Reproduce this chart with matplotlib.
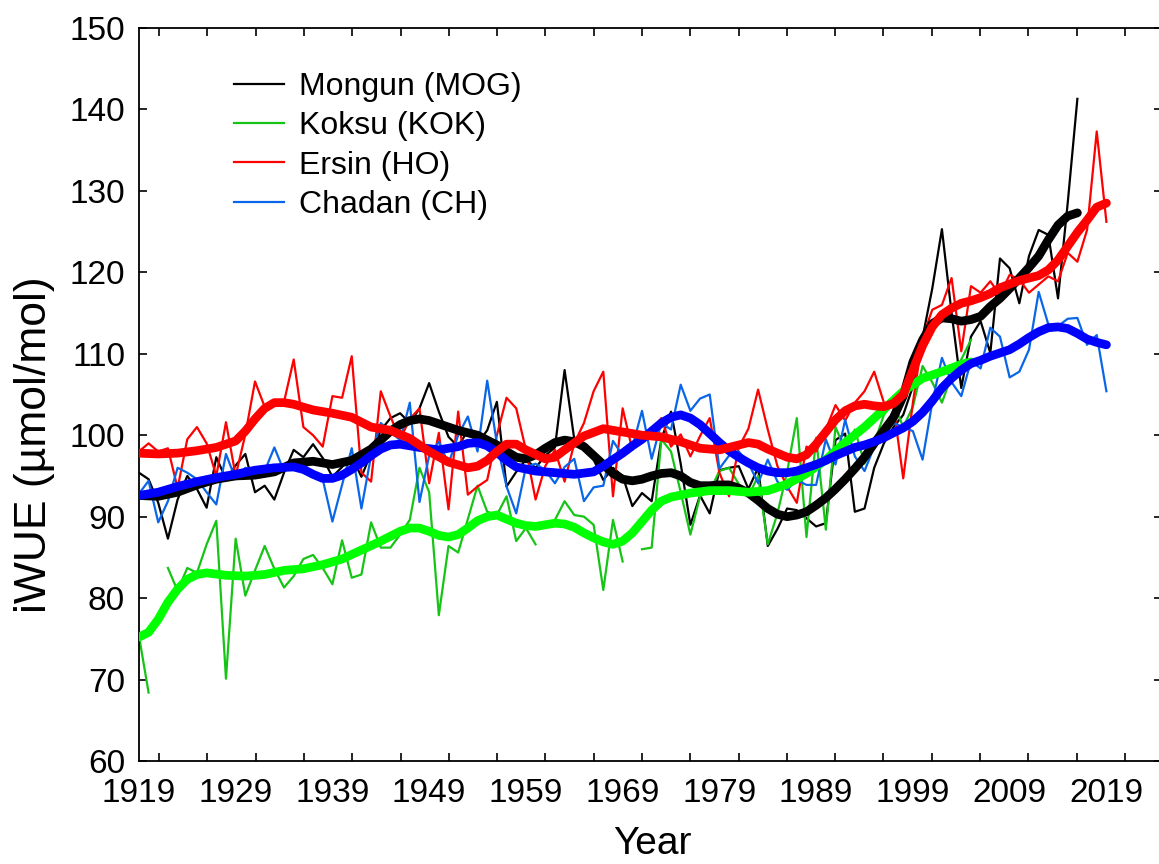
import matplotlib
matplotlib.use("Agg")
import matplotlib.pyplot as plt
import numpy as np

plt.rcParams['font.family'] = ['Liberation Sans', 'DejaVu Sans']

nan = np.nan

# yearly iWUE series
mog_years = list(range(1919, 2017))
mog = [95.4, 94.6, 91.7, 87.3, 92.1, 95.0, 93.4, 91.1, 97.3, 94.6,
       96.3, 97.7, 93.0, 93.8, 92.1, 95.4, 98.2, 97.3, 98.9, 97.2,
       94.9, 96.1, 97.4, 94.9, 97.8, 100.6, 102.1, 102.7, 101.5, 103.3,
       106.4, 102.9, 99.8, 98.6, 100.6, 99.0, 100.6, 104.1, 93.7, 95.5,
       97.0, 96.0, 97.5, 98.5, 108.0, 99.5, 98.5, 97.0, 94.5, 96.0,
       95.0, 91.3, 92.9, 91.9, 99.5, 102.9, 96.5, 89.0, 92.6, 90.4,
       95.7, 96.0, 96.2, 93.4, 96.0, 86.4, 88.5, 91.0, 90.8, 89.8,
       88.8, 89.2, 99.4, 100.2, 90.6, 91.0, 96.0, 99.0, 101.0, 102.5,
       106.0, 112.0, 118.0, 125.3, 115.0, 105.8, 112.1, 114.0, 110.1, 121.7,
       120.5, 116.2, 122.0, 125.2, 124.6, 116.8, 128.5, 141.3]

kok_years = list(range(1919, 2006))
kok = [75.4, 68.4, nan, 83.7, 80.9, 83.7, 83.1, 86.6, 89.5, 70.1,
       87.3, 80.3, 83.4, 86.4, 83.6, 81.3, 82.7, 84.8, 85.3, 83.7,
       81.7, 87.1, 82.5, 82.9, 89.3, 86.2, 86.2, 87.8, 89.6, 96.0,
       93.0, 77.9, 86.4, 85.6, 89.7, 93.8, 90.6, 90.2, 92.5, 87.0,
       88.6, 86.6, nan, 89.6, 91.9, 90.2, 90.0, 89.0, 81.0, 89.6,
       84.5, nan, 86.0, 86.2, 99.5, 98.0, 93.0, 87.8, 92.5, 93.1,
       95.6, 96.0, 94.0, 92.5, 95.0, 86.6, 90.4, 95.5, 102.1, 87.5,
       99.7, 88.4, 101.0, 98.2, 100.7, 96.5, 99.0, 102.5, 104.0, 101.0,
       103.5, 108.5, 106.5, 104.0, 107.3, 109.3, 111.7]

ho_years = list(range(1919, 2020))
ho = [98.0, 99.0, 98.0, 98.4, 93.5, 99.5, 101.0, 99.0, 95.0, 101.6,
      95.0, 100.1, 106.6, 103.5, 104.0, 104.1, 109.3, 101.0, 100.0, 98.6,
      104.8, 104.6, 109.7, 95.4, 94.3, 105.4, 102.3, 99.5, 102.0, 103.3,
      94.1, 100.3, 90.9, 102.9, 92.7, 93.7, 94.5, 100.0, 104.6, 103.3,
      98.2, 92.1, 96.2, 98.2, 94.3, 99.0, 101.5, 105.4, 107.8, 92.5,
      103.3, 98.2, 99.9, 100.6, 102.1, 98.6, 100.1, 97.4, 99.9, 102.1,
      95.4, 92.5, 98.5, 100.8, 105.6, 100.7, 96.2, 93.7, 91.7, 98.6,
      98.0, 100.7, 103.7, 101.8, 104.0, 105.4, 107.8, 104.0, 103.5, 94.7,
      104.0, 112.0, 115.4, 116.0, 119.3, 110.3, 118.3, 117.5, 118.9, 117.2,
      119.7, 119.1, 117.5, 118.5, 119.5, 118.9, 122.4, 121.3, 125.2, 137.3,
      126.2]

ch_years = list(range(1919, 2020))
ch = [92.8, 94.4, 89.3, 91.9, 96.0, 95.4, 94.6, 93.0, 91.5, 97.7,
      94.6, 96.0, 95.6, 95.6, 98.5, 95.6, 96.9, 96.4, 95.4, 94.6,
      89.4, 93.9, 98.4, 91.0, 97.5, 101.5, 100.4, 99.4, 104.0, 91.8,
      97.5, 99.2, 96.5, 100.0, 102.3, 98.0, 106.7, 99.0, 93.7, 90.4,
      96.1, 96.5, 95.7, 94.1, 96.1, 97.1, 91.9, 93.6, 93.8, 99.3,
      97.5, 98.5, 103.0, 97.1, 101.5, 100.7, 106.2, 103.0, 104.5, 105.0,
      95.9, 97.5, 98.0, 96.6, 94.1, 97.0, 94.3, 93.3, 94.5, 93.9,
      93.9, 99.5, 96.4, 101.9, 97.4, 95.6, 98.6, 100.0, 101.5, 101.0,
      100.5, 97.0, 104.0, 109.5, 106.5, 104.8, 109.1, 108.2, 113.2, 112.1,
      107.1, 107.8, 110.5, 117.6, 113.6, 113.4, 114.3, 114.4, 111.1, 112.3,
      105.4]

# smoothed curves
mog_s_years = [1919, 1921, 1923, 1925, 1927, 1929, 1931, 1933, 1935, 1937, 1939, 1941,
               1943, 1944, 1945, 1946, 1947, 1948, 1949, 1950, 1952, 1954, 1956, 1957,
               1958, 1959, 1960, 1961, 1962, 1963, 1964, 1965, 1966, 1967, 1968, 1969,
               1970, 1971, 1972, 1973, 1974, 1975, 1976, 1977, 1978, 1979, 1980, 1981,
               1982, 1983, 1984, 1985, 1986, 1987, 1988, 1989, 1990, 1991, 1992, 1993,
               1994, 1995, 1996, 1997, 1998, 1999, 2000, 2001, 2002, 2003, 2004, 2005,
               2006, 2007, 2008, 2009, 2010, 2011, 2012, 2013, 2014, 2015, 2016]
mog_s = [92.6, 92.5, 93.0, 93.9, 94.6, 95.0, 95.1, 95.5, 96.6, 96.8, 96.4, 96.9,
         98.3, 99.4, 100.5, 101.3, 101.8, 102.0, 101.8, 101.4, 100.6, 100.0, 98.8, 98.0,
         97.3, 97.1, 97.6, 98.4, 99.1, 99.4, 99.2, 98.6, 97.5, 96.4, 95.3, 94.6,
         94.4, 94.6, 95.0, 95.3, 95.4, 95.0, 94.2, 93.8, 93.8, 93.9, 93.9, 93.5,
         92.9, 92.0, 91.0, 90.3, 90.0, 90.2, 90.6, 91.4, 92.3, 93.4, 94.6, 95.9,
         97.3, 99.0, 100.6, 102.2, 104.8, 109.0, 111.7, 113.7, 114.4, 114.3, 114.0, 114.2,
         114.6, 115.8, 116.8, 118.0, 119.3, 120.6, 122.0, 124.0, 125.8, 126.9, 127.3]

kok_s_years = [1919, 1920, 1921, 1922, 1923, 1924, 1925, 1926, 1928, 1930, 1932, 1934,
               1936, 1938, 1940, 1942, 1944, 1946, 1947, 1948, 1949, 1950, 1951, 1952,
               1953, 1954, 1955, 1956, 1957, 1958, 1959, 1960, 1961, 1962, 1963, 1964,
               1965, 1966, 1967, 1968, 1969, 1970, 1971, 1972, 1973, 1974, 1976, 1978,
               1980, 1982, 1984, 1986, 1988, 1990, 1992, 1994, 1996, 1998, 2000, 2002,
               2004, 2005]
kok_s = [75.2, 75.8, 77.4, 79.5, 81.1, 82.3, 82.9, 83.1, 82.8, 82.7, 82.9, 83.4,
         83.6, 84.1, 84.8, 85.9, 87.0, 88.2, 88.6, 88.6, 88.2, 87.7, 87.5, 87.8,
         88.6, 89.5, 90.0, 90.2, 89.7, 89.2, 88.9, 88.8, 89.0, 89.2, 89.1, 88.7,
         88.0, 87.4, 86.9, 86.6, 87.0, 88.0, 89.4, 90.8, 91.9, 92.4, 92.9, 93.2,
         93.2, 93.0, 93.2, 94.0, 95.3, 97.0, 99.1, 101.0, 103.2, 105.4, 107.0, 107.8,
         108.7, 109.0]

ho_s_years = [1919, 1921, 1923, 1925, 1927, 1929, 1930, 1931, 1932, 1933, 1934, 1935,
              1937, 1939, 1941, 1943, 1945, 1947, 1949, 1951, 1953, 1954, 1955, 1956,
              1957, 1958, 1959, 1961, 1962, 1963, 1965, 1967, 1969, 1971, 1973, 1975,
              1977, 1979, 1981, 1982, 1983, 1984, 1986, 1987, 1988, 1989, 1990, 1991,
              1992, 1993, 1994, 1995, 1996, 1997, 1998, 1999, 2000, 2001, 2002, 2003,
              2004, 2005, 2006, 2007, 2008, 2010, 2012, 2013, 2014, 2015, 2016, 2017,
              2018, 2019]
ho_s = [97.8, 97.7, 97.8, 98.1, 98.5, 99.3, 100.5, 102.0, 103.3, 104.0, 104.0, 103.8,
        103.1, 102.7, 102.2, 101.0, 100.6, 99.6, 98.0, 96.7, 96.0, 96.2, 96.9, 98.0,
        98.9, 98.9, 98.2, 97.1, 97.3, 98.2, 99.9, 100.8, 100.4, 100.0, 99.8, 99.2,
        98.4, 98.2, 98.8, 99.1, 98.9, 98.3, 97.3, 97.1, 97.6, 98.9, 100.4, 101.9,
        103.0, 103.6, 103.8, 103.6, 103.5, 103.9, 105.0, 108.0, 111.0, 113.3, 114.8, 115.6,
        116.2, 116.5, 116.9, 117.4, 118.1, 119.0, 119.6, 120.3, 121.5, 123.2, 124.9, 126.4,
        128.0, 128.5]

ch_s_years = [1919, 1921, 1923, 1925, 1927, 1929, 1931, 1933, 1935, 1936, 1937, 1938,
              1939, 1940, 1941, 1942, 1943, 1944, 1945, 1946, 1948, 1950, 1952, 1953,
              1954, 1955, 1956, 1957, 1958, 1960, 1962, 1964, 1966, 1967, 1968, 1969,
              1970, 1971, 1972, 1973, 1974, 1975, 1976, 1977, 1978, 1979, 1980, 1981,
              1982, 1983, 1984, 1985, 1986, 1987, 1988, 1989, 1990, 1991, 1992, 1993,
              1994, 1995, 1996, 1997, 1998, 1999, 2000, 2001, 2002, 2003, 2004, 2005,
              2006, 2007, 2008, 2009, 2010, 2011, 2012, 2013, 2014, 2015, 2016, 2017,
              2018, 2019]
ch_s = [92.6, 93.0, 93.7, 94.3, 94.8, 95.2, 95.7, 96.0, 96.1, 95.8, 95.2, 94.7,
        94.7, 95.1, 95.8, 96.6, 97.5, 98.3, 98.8, 98.9, 98.5, 98.2, 98.6, 99.0,
        99.1, 98.7, 97.9, 96.9, 96.1, 95.6, 95.4, 95.2, 95.5, 96.2, 97.0, 97.8,
        98.7, 99.5, 100.5, 101.5, 102.2, 102.5, 102.1, 101.3, 100.2, 99.1, 98.1, 97.3,
        96.6, 96.0, 95.6, 95.4, 95.4, 95.6, 96.0, 96.4, 96.9, 97.5, 98.0, 98.5,
        98.8, 99.2, 99.7, 100.3, 100.9, 101.7, 102.8, 104.2, 105.8, 107.0, 108.0, 108.8,
        109.2, 109.7, 110.1, 110.5, 111.2, 112.0, 112.7, 113.2, 113.3, 113.1, 112.5, 111.8,
        111.4, 111.1]

labels = ["Mongun (MOG)", "Koksu (KOK)", "Ersin (HO)", "Chadan (CH)"]
year_ticks = list(range(1919, 2020, 10))
value_ticks = list(range(60, 151, 10))

fig = plt.figure(figsize=(11.59, 8.64), dpi=100)
ax = fig.add_axes([138.9 / 1159, 1 - 761 / 864, (1162 - 138.9) / 1159, 733 / 864])

# thin yearly lines
ax.plot(mog_years, mog, color="black", lw=1.6, zorder=2, label=labels[0])
ax.plot(kok_years, kok, color="#16c416", lw=1.6, zorder=2, label=labels[1])
ax.plot(ho_years, ho, color="#ff0000", lw=1.6, zorder=2, label=labels[2])
ax.plot(ch_years, ch, color="#0a66e8", lw=1.6, zorder=2, label=labels[3])

# thick smoothed lines
kw = dict(lw=6.3, solid_capstyle="round", solid_joinstyle="round")
ax.plot(mog_s_years, mog_s, color="black", zorder=4, **kw)
ax.plot(kok_s_years, kok_s, color="#00ff00", zorder=5, **kw)
ax.plot(ch_s_years, ch_s, color="#0000ff", zorder=6, **kw)
ax.plot(ho_s_years, ho_s, color="#ff0000", zorder=7, **kw)

ax.set_xlim(1919, 1919 + (1162 - 138.9) / 9.675)
ax.set_ylim(60, 150)
ax.set_xticks(year_ticks)
ax.set_xticks(np.arange(1921.1, 2024, 4.99), minor=True)
ax.set_yticks(value_ticks)
ax.tick_params(axis="x", which="major", length=0, labelsize=24, pad=12)
ax.tick_params(axis="x", which="minor", direction="in", length=6, width=1.2,
               top=True, bottom=True)
ax.tick_params(axis="y", which="major", direction="in", length=6, width=1.2,
               left=True, right=True, labelsize=24, pad=10)
for s in ax.spines.values():
    s.set_linewidth(1.3)

ax.set_xlabel("Year", fontsize=28)
ax.set_ylabel("iWUE (µmol/mol)", fontsize=32)
ax.xaxis.set_label_coords(0.502, -0.138)
ax.yaxis.set_label_coords(-0.102, 0.431)
ax.xaxis.label.set_va("bottom")
ax.yaxis.label.set_va("center")

ax.legend(loc="upper left", bbox_to_anchor=(234 / 1159, 1 - 72 / 864),
          bbox_transform=fig.transFigure, frameon=False, fontsize=23,
          handlelength=1.55, handletextpad=0.5, labelspacing=0.29, borderpad=0,
          borderaxespad=0)

fig.savefig("out.png", dpi=100)
